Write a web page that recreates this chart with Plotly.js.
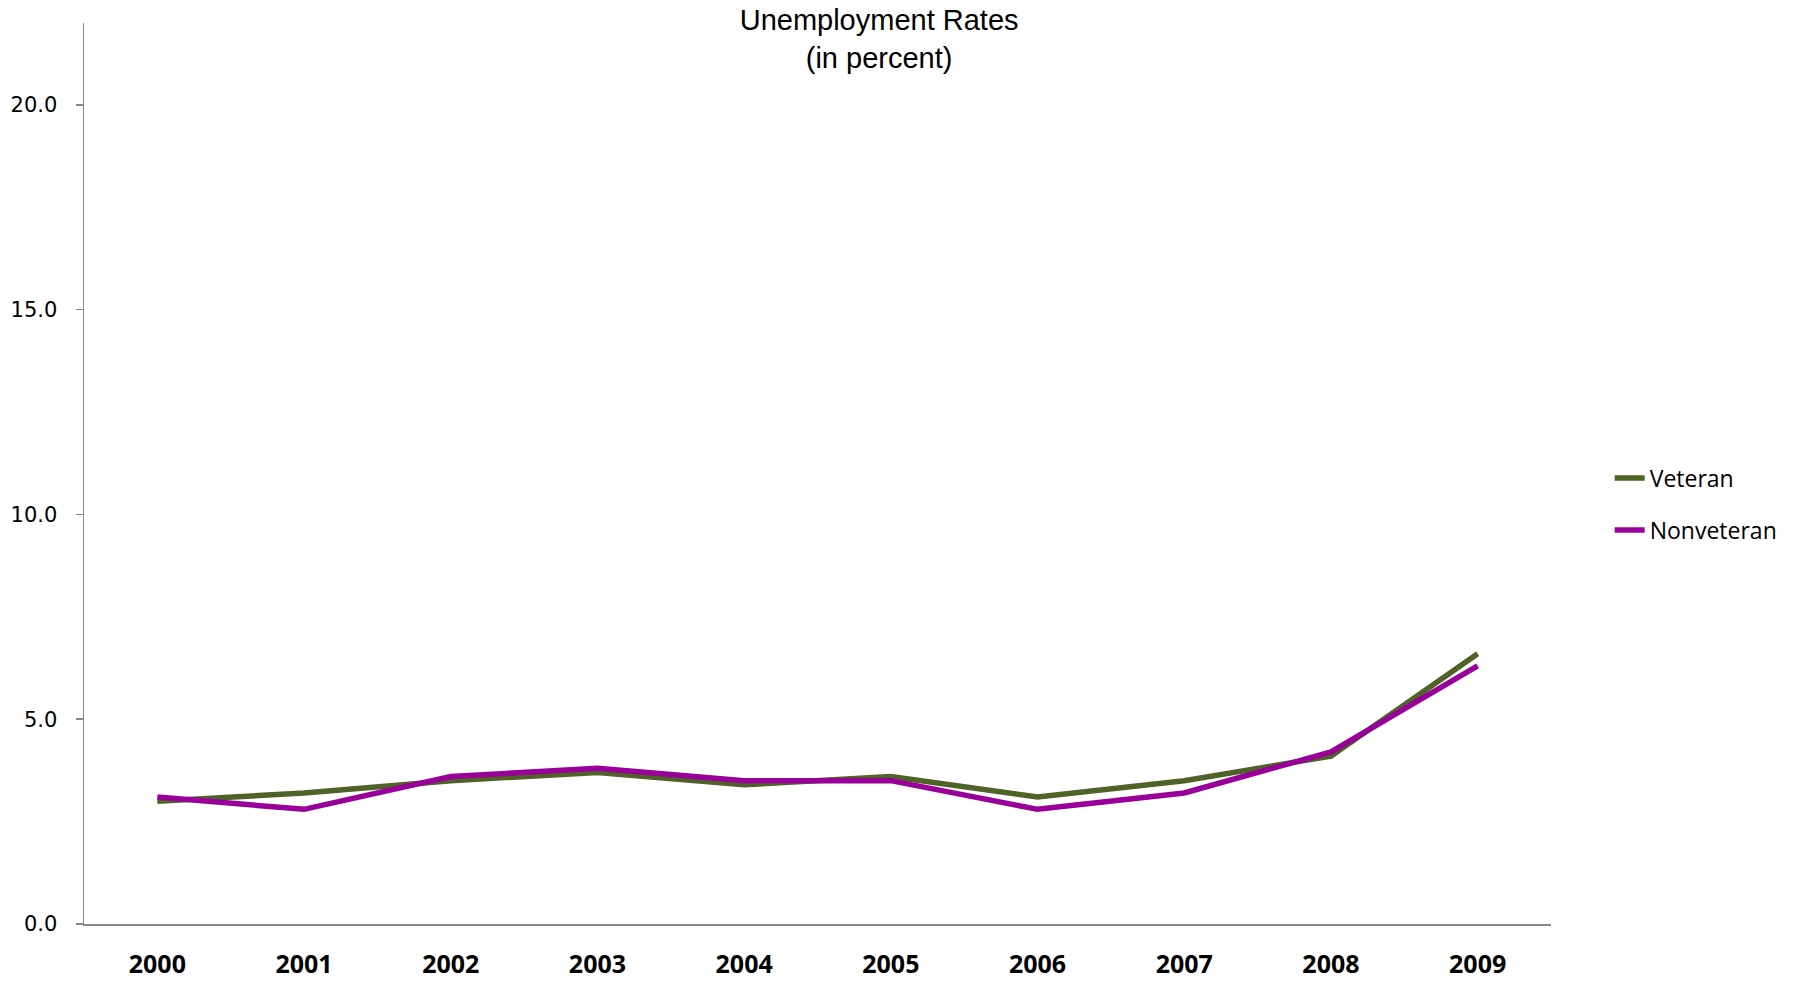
<!DOCTYPE html>
<html>
<head>
<meta charset="utf-8">
<script src="https://cdn.plot.ly/plotly-3.0.1.min.js"></script>
<style>html,body{margin:0;padding:0;background:#fff;}#chart{width:1797px;height:984px;}</style>
</head>
<body>
<div id="chart"></div>
<script>
const years = ['2000','2001','2002','2003','2004','2005','2006','2007','2008','2009'];
const veteran = [3.0, 3.2, 3.5, 3.7, 3.4, 3.6, 3.1, 3.5, 4.1, 6.6];
const nonveteran = [3.1, 2.8, 3.6, 3.8, 3.5, 3.5, 2.8, 3.2, 4.2, 6.3];
const yTicks = [0, 5, 10, 15, 20];

const traces = [
  {x: years, y: veteran, name: 'Veteran', type: 'scatter', mode: 'lines',
   legendgroup: 'a', line: {color: '#4F6228', width: 5.5}},
  {x: years, y: nonveteran, name: 'Nonveteran', type: 'scatter', mode: 'lines',
   legendgroup: 'b', line: {color: '#990099', width: 5.5}}
];

const layout = {
  width: 1797, height: 984,
  margin: {l: 84, r: 246, t: 23, b: 60},
  paper_bgcolor: '#fff', plot_bgcolor: '#fff',
  title: {text: 'Unemployment Rates<br>(in percent)', x: 0.542, xref: 'paper',
          y: 0.9691, yref: 'container', yanchor: 'middle',
          font: {family: 'Liberation Sans, Arial, sans-serif', size: 29, color: '#000'}},
  xaxis: {type: 'category', range: [-0.5, 9.5], showgrid: false, zeroline: false,
          showline: true, linecolor: '#868686', linewidth: 1.5, ticks: '',
          ticklabelstandoff: 17,
          tickfont: {family: 'Open Sans, sans-serif', size: 25, color: '#000', weight: 'bold'}},
  yaxis: {range: [0, 22], tickvals: yTicks, tickformat: '.1f', showgrid: false, zeroline: false,
          showline: true, linecolor: '#868686', linewidth: 1.5, ticks: 'outside', ticklen: 7,
          tickcolor: '#868686', tickwidth: 1.5, ticklabelstandoff: 14,
          tickfont: {family: 'DejaVu Sans, sans-serif', size: 21, color: '#000'}},
  showlegend: true,
  legend: {x: 1.040, xanchor: 'left', y: 0.466, yanchor: 'middle', tracegroupgap: 19,
           font: {family: 'Open Sans, sans-serif', size: 23, color: '#000'},
           bgcolor: 'rgba(0,0,0,0)'}
};

Plotly.newPlot('chart', traces, layout, {displayModeBar: false, staticPlot: true});
</script>
</body>
</html>
